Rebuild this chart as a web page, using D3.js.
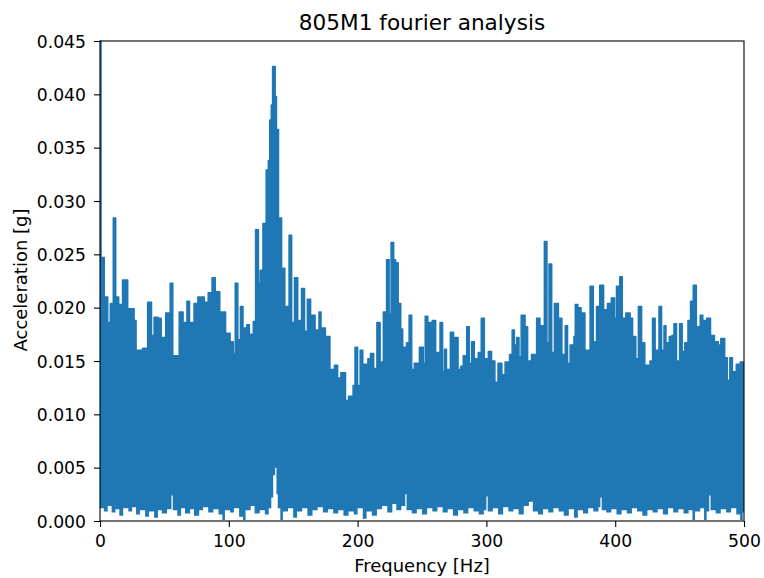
<!DOCTYPE html>
<html>
<head>
<meta charset="utf-8">
<style>
  body { margin: 0; background: #fff; }
  text { font-family: "DejaVu Sans", sans-serif; }
</style>
</head>
<body>
<svg id="chart" width="764" height="578"></svg>
<script src="https://d3js.org/d3.v7.min.js"></script>
<script>

// upper envelope of the spectrum: breakpoint frequency [Hz] and peak [g]
var peakFreq = [0,0.8,3.3,6,8,10.3,12.2,14.5,17.5,21.5,26.5,28,33,37,40,42,45,47.5,51,54.5,56.5,61.5,64.5,67.5,69.5,73,76,81,84,87,89.5,90.5,93,94,97.5,101,103.5,105,107,109,111,114,116,119,120.8,123,124.4,126.5,129,130.7,131.8,133,134,136,137,138.6,141,143.5,146.8,148.8,151,153.5,156.5,158.8,161,163.5,167,170,171.6,175,178.5,182,184.5,187,190.6,193,196.5,198,200,202,204,208,210,212.5,215,217.5,220,222.5,224.5,226,228,229.5,231.5,233.5,235,238,240,242,244,248,251,252.5,254.5,255.5,258,260.6,264,266,267.5,269,272,274.5,278,280,282,284.7,286.7,288.5,290.6,293.7,296,298.4,301.5,304,306.6,309,312,314.5,318,320,321.7,323.5,325.3,327,330,332,335,339,341.6,344,345,347,348.6,350.7,352.8,355.9,358.6,361.2,363,365,368,369,371,373.5,376.5,380.5,383,385.5,388,391,394,397,399.5,401,403.5,405.5,408.3,411.6,413.5,416,418,420.5,423,427,429,431,434,436,437.9,439.4,442,444,445.6,447.6,450,452,454,456.5,458.5,460.6,463,466,468,471,474,477,480,482,485,487,489,491,494,497,500];
var peakAmp = [0.045,0.0247,0.021,0.0186,0.0204,0.0284,0.021,0.0203,0.0226,0.0199,0.0188,0.016,0.0162,0.0205,0.0174,0.0191,0.019,0.0172,0.0195,0.0223,0.0155,0.0196,0.0186,0.0206,0.0186,0.0204,0.021,0.0205,0.0214,0.0228,0.0177,0.0215,0.0177,0.0196,0.0176,0.0168,0.0157,0.0223,0.017,0.0201,0.0181,0.0184,0.0175,0.0187,0.0273,0.0223,0.0235,0.0279,0.0329,0.0338,0.0376,0.039,0.0426,0.0398,0.0367,0.0284,0.0237,0.0201,0.0268,0.0186,0.0228,0.0188,0.0218,0.0178,0.0208,0.0193,0.0179,0.0196,0.0181,0.0173,0.0142,0.0146,0.0134,0.0139,0.0113,0.0117,0.0127,0.0163,0.0127,0.016,0.0147,0.0152,0.0157,0.0143,0.0186,0.0149,0.0196,0.0245,0.0194,0.0261,0.0245,0.0242,0.0204,0.018,0.0163,0.0167,0.0193,0.0142,0.0148,0.0163,0.0148,0.0192,0.0178,0.0186,0.0188,0.0158,0.0186,0.014,0.0161,0.0142,0.0177,0.0172,0.0142,0.0145,0.0155,0.0182,0.0148,0.0168,0.0152,0.0158,0.019,0.0152,0.0159,0.015,0.013,0.0148,0.0137,0.0149,0.0156,0.0179,0.0165,0.0172,0.0154,0.0193,0.0182,0.015,0.0156,0.019,0.0183,0.0173,0.0262,0.0167,0.0241,0.0158,0.0204,0.019,0.0156,0.0183,0.0148,0.0165,0.0173,0.0203,0.02,0.0195,0.016,0.022,0.0168,0.0201,0.0221,0.0198,0.0204,0.0209,0.019,0.022,0.0229,0.019,0.0195,0.019,0.0173,0.0152,0.0201,0.0167,0.0146,0.015,0.019,0.016,0.0201,0.016,0.0183,0.0167,0.0173,0.0174,0.0185,0.015,0.0185,0.0159,0.0167,0.0188,0.0206,0.0221,0.0182,0.0193,0.0188,0.019,0.0174,0.0168,0.0165,0.0171,0.0153,0.0132,0.0153,0.014,0.0147,0.0149,0.0149];

// lower envelope (noise floor) of the spectrum
var floorFreq = [0,3,6,9,12,15,18,22,25,28,31,35,38,42,45,48,52,55.5,56.5,60,63,66,70,73,77,80,84,88,92,95,97,101,104,108,111,113,117,120,124,128,131,133,134.5,136,137,138,140,142,146,150,153,157,161,165,169,173,177,181,185,189,193,197,200,204,207,211,215,219,223,227,230,234,237,238,242,246,250,254,258,262,266,270,274,278,282,286,290,294,298,300,301,305,309,313,317,321,325,329,333,336,340,344,348,352,356,360,364,368,371,375,379,383,387,388.5,389.5,393,397,401,405,409,413,417,421,425,429,433,437,441,445,449,453,457,460,462,466,469,471,473,474,478,482,486,490,494,497,499,500];
var floorAmp = [0.0012,0.0009,0.0014,0.0008,0.0011,0.0005,0.0012,0.0009,0.0013,0.0006,0.001,0.0004,0.0009,0.0003,0.001,0.0007,0.0011,0.0024,0.001,0.0005,0.0012,0.0007,0.0011,0.0005,0.001,0.0013,0.0008,0.0011,0.0006,0.0001,0.001,0.0008,0.0012,0.0004,0.0001,0.001,0.0014,0.0007,0.001,0.0006,0.0012,0.0022,0.0043,0.005,0.0025,0.0012,0.0001,0.0009,0.0012,0.0003,0.0009,0.0012,0.0005,0.001,0.0013,0.0008,0.0011,0.0007,0.001,0.0005,0.0009,0.0006,0.0012,0.0002,0.0009,0.0005,0.0011,0.0014,0.0008,0.0016,0.001,0.0014,0.0025,0.001,0.0007,0.0011,0.0006,0.0012,0.0009,0.0013,0.0008,0.0011,0.0005,0.001,0.0007,0.0012,0.0009,0.0006,0.001,0.0023,0.0009,0.0012,0.0006,0.0013,0.0009,0.0011,0.0006,0.0014,0.0018,0.0009,0.0006,0.0011,0.0008,0.0012,0.0009,0.0005,0.0011,0.0003,0.001,0.0007,0.0012,0.0009,0.0013,0.0022,0.001,0.0008,0.0011,0.0006,0.001,0.0007,0.0012,0.0009,0.0005,0.001,0.0008,0.0011,0.0006,0.0012,0.0008,0.0011,0.0007,0.001,0.0001,0.0009,0.0012,0.0001,0.0009,0.0024,0.001,0.0007,0.0011,0.0008,0.0012,0.0006,0.0001,0.0008,0.0008];

var xTicks = [0, 100, 200, 300, 400, 500];
var yTicks = [0, 0.005, 0.01, 0.015, 0.02, 0.025, 0.03, 0.035, 0.04, 0.045];

var margin = {top: 41, right: 20, bottom: 57, left: 100},
    width = 764 - margin.left - margin.right,
    height = 578 - margin.top - margin.bottom;

var svg = d3.select("#chart");
var g = svg.append("g").attr("transform", "translate(" + margin.left + "," + margin.top + ")");

var x = d3.scaleLinear().domain([0, 500]).range([0, width]);
var y = d3.scaleLinear().domain([0, 0.045]).range([height, 0]);

g.append("clipPath").attr("id", "clip")
  .append("rect").attr("x", 0).attr("y", -2).attr("width", width).attr("height", height + 2);

var peaks = peakFreq.map(function(f, i) { return [f, peakAmp[i]]; });
var floor = floorFreq.map(function(f, i) { return [f, floorAmp[i]]; });

var plot = g.append("g").attr("clip-path", "url(#clip)");

plot.append("path")
    .datum(peaks)
    .attr("fill", "#1f77b4")
    .attr("stroke", "#1f77b4")
    .attr("stroke-width", 1.5)
    .attr("stroke-linejoin", "round")
    .attr("d", d3.area()
      .x(function(d) { return x(d[0]); })
      .y0(y(0))
      .y1(function(d) { return y(d[1]); })
      .curve(d3.curveStepAfter));

plot.append("path")
    .datum(floor)
    .attr("fill", "#fff")
    .attr("d", d3.area()
      .x(function(d) { return x(d[0]); })
      .y0(y(0) + 2)
      .y1(function(d) { return y(d[1]); })
      .curve(d3.curveStepAfter));

// axes
var xAxis = g.append("g")
    .attr("transform", "translate(0," + height + ")")
    .call(d3.axisBottom(x).tickValues(xTicks).tickSize(6).tickFormat(d3.format("d")));
var yAxis = g.append("g")
    .call(d3.axisLeft(y).tickValues(yTicks).tickSize(6).tickPadding(8).tickFormat(d3.format(".3f")));

[xAxis, yAxis].forEach(function(a) {
  a.select(".domain").remove();
  a.selectAll("line").attr("stroke", "#000").attr("stroke-width", 1.1);
  a.selectAll("text").attr("fill", "#000").style("font-size", "17.2px").style("font-family", "DejaVu Sans, sans-serif");
});
xAxis.selectAll("text").attr("dy", "0").attr("y", 26);
yAxis.selectAll("text").attr("dy", "0.36em");

g.append("rect")
    .attr("width", width).attr("height", height)
    .attr("fill", "none").attr("stroke", "#000").attr("stroke-width", 1.1);

svg.append("text")
    .attr("x", margin.left + width / 2).attr("y", 30)
    .attr("text-anchor", "middle")
    .style("font-size", "21.6px")
    .text("805M1 fourier analysis");

svg.append("text")
    .attr("x", margin.left + width / 2).attr("y", 572)
    .attr("text-anchor", "middle")
    .style("font-size", "18px")
    .text("Frequency [Hz]");

svg.append("text")
    .attr("transform", "translate(26.5,280)rotate(-90)")
    .attr("text-anchor", "middle")
    .style("font-size", "18px")
    .text("Acceleration [g]");

</script>
</body>
</html>
